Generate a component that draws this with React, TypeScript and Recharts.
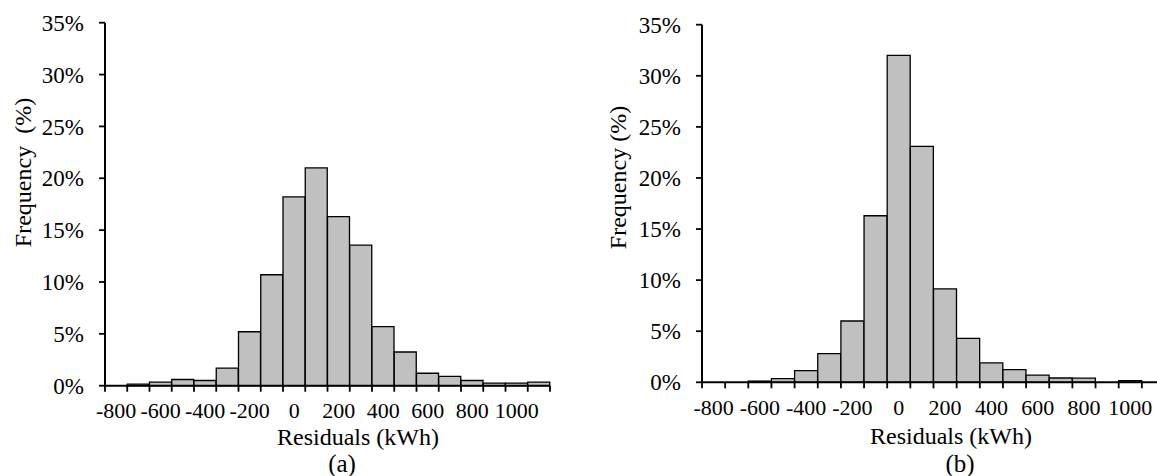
import React from 'react';
import { BarChart, Bar, XAxis, YAxis, Label } from 'recharts';

const bins = [-800, -700, -600, -500, -400, -300, -200, -100, 0, 100, 200, 300, 400, 500, 600, 700, 800, 900, 1000, 1100];
const freqA = [0, 0.15, 0.35, 0.6, 0.5, 1.7, 5.2, 10.7, 18.2, 21.0, 16.3, 13.55, 5.7, 3.25, 1.2, 0.9, 0.5, 0.25, 0.25, 0.35];
const freqB = [0, 0, 0.12, 0.35, 1.15, 2.8, 6.0, 16.3, 32.0, 23.1, 9.15, 4.3, 1.9, 1.25, 0.7, 0.42, 0.4, 0, 0.15, 0];
const yTicks = [0, 5, 10, 15, 20, 25, 30, 35];

const FONT = "'Liberation Serif', 'Times New Roman', serif";
const X_TICK_FS = 22;
const Y_TICK_FS = 23;
const TITLE_FS = 24;
const PANEL_FS = 25;

type PanelProps = {
  values: number[];
  left: number;
  width: number;
  yAxisWidth: number;
  plotWidth: number;
  top: number;
  plotHeight: number;
  height: number;
  yTitle: string;
  yTitleX: number;
  yTitleY: number;
  xTitleX: number;
  xTitleY: number;
  panel: string;
  panelX: number;
  panelY: number;
};

function Panel(p: PanelProps) {
  const data = bins.map((b, i) => ({ bin: String(b), v: p.values[i] }));
  const xAxisHeight = 60;
  const marginBottom = p.height - p.top - p.plotHeight - xAxisHeight;
  const marginRight = p.width - p.yAxisWidth - p.plotWidth;
  const band = p.plotWidth / bins.length;
  const axisY = p.top + p.plotHeight;

  const renderXTick = (props: any) => {
    const { x, index, payload } = props;
    const lx = x - band / 2;
    const rx = x + band / 2;
    return (
      <g>
        <line x1={lx} x2={lx} y1={axisY} y2={axisY + 6} stroke="#000" strokeWidth={1.8} />
        {index === bins.length - 1 ? (
          <line x1={rx} x2={rx} y1={axisY} y2={axisY + 6} stroke="#000" strokeWidth={1.8} />
        ) : null}
        {index % 2 === 0 ? (
          <text x={x} y={axisY + 32.5} textAnchor="middle" fontSize={X_TICK_FS} fontFamily={FONT} fill="#000">
            {payload.value}
          </text>
        ) : null}
      </g>
    );
  };

  return (
    <div style={{ position: 'absolute', left: p.left, top: 0 }}>
      <BarChart
        width={p.width}
        height={p.height}
        data={data}
        barCategoryGap={0}
        barGap={0}
        margin={{ top: p.top, right: marginRight, bottom: marginBottom, left: 0 }}
      >
        <XAxis
          dataKey="bin"
          type="category"
          interval={0}
          height={xAxisHeight}
          axisLine={{ stroke: '#000', strokeWidth: 2 }}
          tickLine={false}
          tick={renderXTick}
        >
          <Label
            content={() => (
              <g>
                <text x={p.xTitleX} y={p.xTitleY} textAnchor="middle" dominantBaseline="central" fontSize={TITLE_FS} fontFamily={FONT} fill="#000">
                  Residuals (kWh)
                </text>
                <text x={p.panelX} y={p.panelY} textAnchor="middle" dominantBaseline="central" fontSize={PANEL_FS} fontFamily={FONT} fill="#000">
                  {p.panel}
                </text>
              </g>
            )}
          />
        </XAxis>
        <YAxis
          type="number"
          domain={[0, 35]}
          ticks={yTicks}
          interval={0}
          width={p.yAxisWidth}
          tickFormatter={(v: number) => `${v}%`}
          tickSize={6}
          tickMargin={15}
          axisLine={{ stroke: '#000', strokeWidth: 2 }}
          tickLine={{ stroke: '#000', strokeWidth: 1.8 }}
          tick={{ fill: '#000', fontSize: Y_TICK_FS, fontFamily: FONT }}
        >
          <Label
            content={() => (
              <text
                x={p.yTitleX}
                y={p.yTitleY}
                transform={`rotate(-90, ${p.yTitleX}, ${p.yTitleY})`}
                textAnchor="middle"
                dominantBaseline="central"
                fontSize={TITLE_FS}
                fontFamily={FONT}
                fill="#000"
                style={{ whiteSpace: 'pre' }}
              >
                {p.yTitle}
              </text>
            )}
          />
        </YAxis>
        <Bar dataKey="v" fill="#c0c0c0" stroke="#000" strokeWidth={1.3} isAnimationActive={false} />
      </BarChart>
    </div>
  );
}

export default function App() {
  return (
    <div
      style={{
        position: 'fixed',
        left: 0,
        top: 0,
        width: 1157,
        height: 476,
        overflow: 'hidden',
        background: '#fff',
      }}
    >
      <Panel
        values={freqA}
        left={0}
        width={580}
        yAxisWidth={105}
        plotWidth={445}
        top={22.7}
        plotHeight={363}
        height={476}
        yTitle={'Frequency\u00a0\u00a0(%)'}
        yTitleX={23}
        yTitleY={172.5}
        xTitleX={358}
        xTitleY={436.5}
        panel="(a)"
        panelX={342}
        panelY={463}
      />
      <Panel
        values={freqB}
        left={580}
        width={600}
        yAxisWidth={122}
        plotWidth={463}
        top={24.7}
        plotHeight={357.6}
        height={476}
        yTitle="Frequency (%)"
        yTitleX={37.5}
        yTitleY={177.5}
        xTitleX={371}
        xTitleY={436}
        panel="(b)"
        panelX={380}
        panelY={463}
      />
    </div>
  );
}
